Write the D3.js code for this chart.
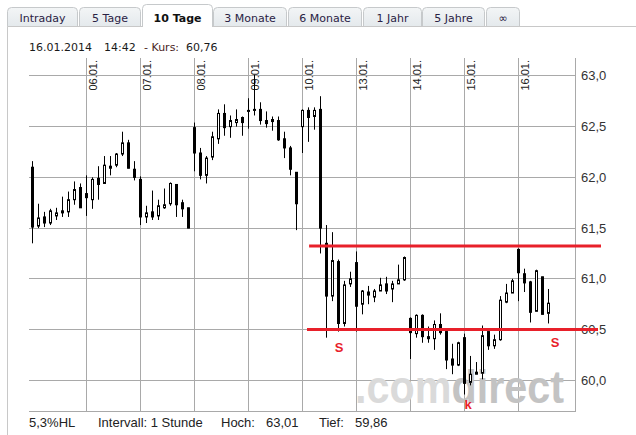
<!DOCTYPE html>
<html><head><meta charset="utf-8">
<script src="https://cdn.jsdelivr.net/npm/d3@7"></script>
<style>html,body{margin:0;padding:0;background:#fff;}svg{display:block;}</style>
</head><body>
<svg id="c" width="636" height="435"></svg>
<script>
// ---------------- DATA ----------------
const tabs = ["Intraday","5 Tage","10 Tage","3 Monate","6 Monate","1 Jahr","5 Jahre","\u221E"];
const activeTab = 2;
const dayLabels = ["06.01.","07.01.","08.01.","09.01.","10.01.","13.01.","14.01.","15.01.","16.01."];
const candlesPerDay = 9;
const yTicks = [60.0,60.5,61.0,61.5,62.0,62.5,63.0];
const opens  = [62.10,61.52,61.61,61.55,61.62,61.67,61.66,61.78,61.90,
                61.84,61.78,61.99,61.94,62.09,62.12,62.23,62.34,62.08,
                61.98,61.61,61.66,61.62,61.70,61.74,61.93,61.75,61.70,
                62.49,62.24,62.02,62.20,62.38,62.63,62.50,62.54,62.59,
                62.65,62.66,62.67,62.56,62.57,62.56,62.38,62.29,62.05,
                62.50,62.66,62.60,62.67,61.35,60.83,61.17,60.56,60.95,
                61.16,60.75,60.87,60.82,60.88,60.95,60.90,60.95,60.99,
                60.61,60.46,60.64,60.43,60.41,60.55,60.48,60.21,60.15,
                60.42,59.98,60.06,60.07,60.48,60.34,60.40,60.77,60.86,
                61.29,61.05,60.97,60.68,61.02,60.66];
const highs  = [62.16,61.74,61.66,61.69,61.70,61.81,61.86,61.96,61.94,
                62.02,62.00,62.11,62.21,62.21,62.24,62.45,62.37,62.16,
                62.01,61.72,61.87,61.78,61.89,61.95,61.93,61.78,61.70,
                62.54,62.29,62.21,62.45,62.67,62.72,62.61,62.67,62.60,
                62.78,63.01,62.74,62.65,62.60,62.60,62.45,62.31,62.05,
                62.67,62.69,62.69,62.80,61.53,61.46,61.19,60.98,61.07,
                61.27,60.89,60.93,60.90,61.01,61.02,60.98,61.14,61.22,
                60.62,60.65,60.65,60.53,60.59,60.66,60.49,60.36,60.38,
                60.46,60.24,60.18,60.54,60.48,60.45,60.83,60.95,61.00,
                61.30,61.10,60.98,61.09,61.02,60.90];
const lows   = [61.35,61.50,61.51,61.53,61.58,61.61,61.61,61.73,61.70,
                61.62,61.69,61.78,61.94,62.02,62.10,62.21,62.09,61.97,
                61.53,61.55,61.58,61.58,61.69,61.72,61.61,61.61,61.50,
                62.06,61.98,61.94,62.17,62.33,62.41,62.39,62.50,62.41,
                62.48,62.61,62.52,62.49,62.46,62.36,62.19,62.02,61.48,
                62.24,62.35,62.47,61.25,60.42,60.78,60.48,60.53,60.92,
                60.48,60.65,60.75,60.77,60.88,60.85,60.77,60.95,60.98,
                60.21,60.42,60.37,60.37,60.30,60.45,60.11,60.06,60.14,
                59.86,59.95,60.06,60.01,60.30,60.31,60.39,60.76,60.86,
                60.78,60.87,60.57,60.68,60.65,60.56];
const closes = [61.51,61.60,61.55,61.67,61.65,61.65,61.78,61.88,61.70,
                61.80,61.98,61.93,62.12,62.11,62.23,62.34,62.09,62.00,
                61.61,61.65,61.61,61.72,61.73,61.94,61.73,61.69,61.50,
                62.24,62.02,62.19,62.40,62.63,62.49,62.56,62.57,62.54,
                62.66,62.67,62.56,62.53,62.55,62.37,62.29,62.08,61.74,
                62.66,62.59,62.66,61.50,60.83,61.18,60.56,60.94,61.00,
                60.73,60.88,60.84,60.88,60.94,60.88,60.95,60.99,61.21,
                60.47,60.64,60.43,60.41,60.55,60.47,60.20,60.15,60.37,
                59.97,60.06,60.08,60.44,60.34,60.40,60.79,60.86,60.98,
                61.06,60.96,60.67,61.08,60.65,60.76];
// horizontal support / resistance lines: level, start index, end index
const srLevels = [61.324, 60.50];
const srFrom   = [46.1, 45.75];
const srTo     = [94.75, 94.25];
// annotation letters: text, index position, value (baseline)
const noteText = ["S","k","S"];
const noteIdx  = [51.1, 72.6, 87.1];
const noteVal  = [60.275, 59.718, 60.332];
const headerDate = "16.01.2014", headerTime = "14:42", headerKurs = "60,76";
const footer = {hl:"5,3%HL", intervall:"Intervall: 1 Stunde", hoch:"63,01", tief:"59,86"};

// ---------------- LAYOUT ----------------
const svg = d3.select("#c");
const plotL = 29, plotR = 576, plotT = 58, plotB = 411;
const x = d3.scaleLinear().domain([0, 86]).range([32.5, 548.5]);
const y = d3.scaleLinear().domain([60, 63]).range([380.3, 75.9]);
const crisp = v => Math.floor(v) + 0.5;
const gridColor = "#a9a9a9";

svg.append("rect").attr("width",636).attr("height",435).attr("fill","#fff");

// tabs
const tabEdges = [[7.5,77.5],[79.5,140.5],[142.5,212.5],[213.5,286.5],[288.5,361.5],[363.5,421.5],[422.5,484.5],[486.5,519.5]];
const defs = svg.append("defs");
const grad = defs.append("linearGradient").attr("id","tg").attr("x1",0).attr("y1",0).attr("x2",0).attr("y2",1);
grad.append("stop").attr("offset","0%").attr("stop-color","#f3f5f6");
grad.append("stop").attr("offset","100%").attr("stop-color","#e4e9ec");
const tabG = svg.append("g");
tabs.forEach((t,i)=>{
  const [x0,x1] = tabEdges[i];
  const top = i===activeTab ? 4.5 : 7.5, r = 4, bot = 26.5;
  tabG.append("path")
    .attr("d",`M${x0},${bot}V${top+r}Q${x0},${top} ${x0+r},${top}H${x1-r}Q${x1},${top} ${x1},${top+r}V${bot}`)
    .attr("fill", i===activeTab ? "#fff" : "url(#tg)")
    .attr("stroke","#c6c9cb").attr("stroke-width",1);
});
// panel border
svg.append("line").attr("x1",7.5).attr("x2",636).attr("y1",26.5).attr("y2",26.5).attr("stroke","#c8c8c8");
svg.append("line").attr("x1",7.5).attr("x2",7.5).attr("y1",26.5).attr("y2",435).attr("stroke","#c8c8c8");
svg.append("line").attr("x1",tabEdges[activeTab][0]+0.5).attr("x2",tabEdges[activeTab][1]-0.5)
  .attr("y1",26.5).attr("y2",26.5).attr("stroke","#fff").attr("stroke-width",1.2);
tabs.forEach((t,i)=>{
  const [x0,x1] = tabEdges[i];
  tabG.append("text").attr("x",(x0+x1)/2).attr("y",22).attr("text-anchor","middle")
    .attr("font-family","DejaVu Sans, Verdana, sans-serif").attr("font-size",11)
    .attr("font-weight", i===activeTab ? "bold" : "normal")
    .attr("fill", i===activeTab ? "#111" : "#2a2244").text(t);
});

// header
const hf = "DejaVu Sans, Verdana, sans-serif";
svg.append("text").attr("x",29).attr("y",51).attr("font-family",hf).attr("font-size",11).attr("fill","#1a1a1a").text(headerDate);
svg.append("text").attr("x",104).attr("y",51).attr("font-family",hf).attr("font-size",11).attr("fill","#1a1a1a").text(headerTime);
svg.append("text").attr("x",144).attr("y",51).attr("font-family",hf).attr("font-size",11).attr("fill","#4a2424").text("- Kurs:");
svg.append("text").attr("x",186).attr("y",51).attr("font-family",hf).attr("font-size",11).attr("fill","#1a1a1a").text(headerKurs);

// grid
const grid = svg.append("g");
yTicks.forEach(v=>{
  grid.append("line").attr("x1",plotL).attr("x2",plotR).attr("y1",crisp(y(v))).attr("y2",crisp(y(v)))
    .attr("stroke",gridColor);
});
dayLabels.forEach((d,k)=>{
  const gx = crisp(x((k+1)*candlesPerDay));
  grid.append("line").attr("x1",gx).attr("x2",gx).attr("y1",plotT).attr("y2",plotB).attr("stroke",gridColor);
});
grid.append("line").attr("x1",crisp(plotR)-1).attr("x2",crisp(plotR)-1).attr("y1",plotT).attr("y2",plotB).attr("stroke",gridColor);
grid.append("line").attr("x1",plotL).attr("x2",plotR).attr("y1",crisp(plotB)).attr("y2",crisp(plotB)).attr("stroke",gridColor);

// watermark
const wm = svg.append("text").attr("x",355).attr("y",403)
  .attr("font-family","Liberation Sans, Arial, sans-serif").attr("font-weight","bold").attr("font-size",47)
  .attr("textLength",209).attr("lengthAdjust","spacingAndGlyphs");
wm.append("tspan").attr("fill","#dadada").text(".com");
wm.append("tspan").attr("fill","#c3c3c3").text("direct");

// day labels
dayLabels.forEach((d,k)=>{
  const gx = crisp(x((k+1)*candlesPerDay));
  svg.append("text").attr("transform",`translate(${gx+10},60) rotate(-90)`).attr("text-anchor","end")
    .attr("font-family","Liberation Sans, Arial, sans-serif").attr("font-size",11).attr("fill","#222").text(d);
});

// candles
const cg = svg.append("g");
opens.forEach((o,i)=>{
  const c = closes[i], h = highs[i], l = lows[i];
  const cx = Math.floor(x(i)) + 0.5;
  cg.append("line").attr("x1",cx).attr("x2",cx).attr("y1",y(h)).attr("y2",y(l)).attr("stroke","#000").attr("stroke-width",1);
  const top = y(Math.max(o,c)), bot = y(Math.min(o,c));
  const up = c > o;
  cg.append("rect").attr("x",cx-1).attr("y",top).attr("width",2).attr("height",Math.max(1,bot-top))
    .attr("fill", up ? "#fff" : "#000").attr("stroke","#000").attr("stroke-width",1);
});

// y labels
yTicks.forEach(v=>{
  svg.append("text").attr("x",581).attr("y",crisp(y(v))+4.5)
    .attr("font-family","Liberation Sans, Arial, sans-serif").attr("font-size",13).attr("fill","#333")
    .text(d3.format(".1f")(v).replace(".",","));
});

// support/resistance lines
srLevels.forEach((lv,i)=>{
  svg.append("line").attr("x1",x(srFrom[i])).attr("x2",x(srTo[i])).attr("y1",y(lv)).attr("y2",y(lv))
    .attr("stroke","#e8202a").attr("stroke-width",3);
});
// annotations
noteText.forEach((t,i)=>{
  svg.append("text").attr("x",x(noteIdx[i])).attr("y",y(noteVal[i])).attr("text-anchor","middle")
    .attr("font-family","Liberation Sans, Arial, sans-serif").attr("font-weight","bold").attr("font-size",13)
    .attr("fill","#e8202a").text(t);
});

// footer
const ff = "Liberation Sans, Arial, sans-serif";
[[29,footer.hl],[98,footer.intervall],[221,"Hoch:"],[266,footer.hoch],[319,"Tief:"],[355,footer.tief]].forEach(([fx,t])=>{
  svg.append("text").attr("x",fx).attr("y",427).attr("font-family",ff).attr("font-size",13).attr("fill","#222").text(t);
});
</script>
</body></html>
